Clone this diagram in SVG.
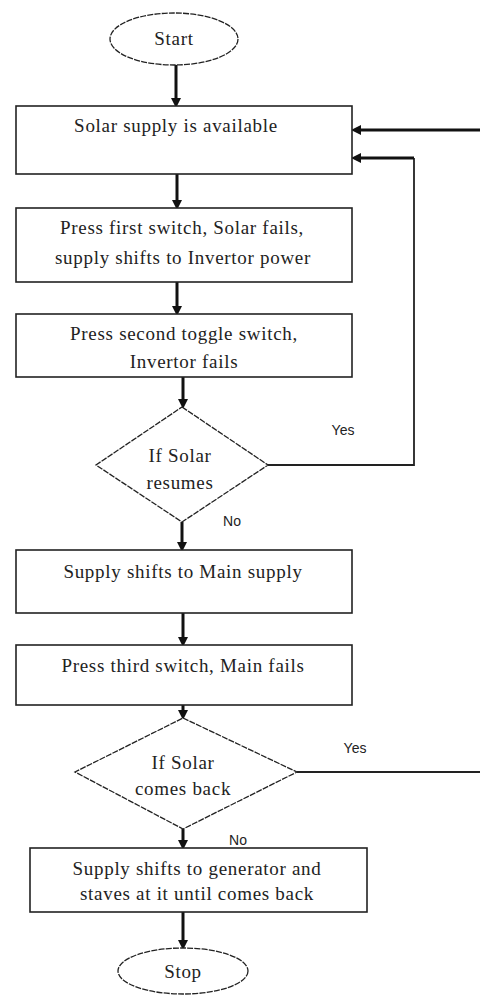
<svg xmlns="http://www.w3.org/2000/svg" width="480" height="998" viewBox="0 0 480 998">
<defs>
<style>
.box{fill:#fff;stroke:#222;stroke-width:1.6}
.term{fill:#fff;stroke:#222;stroke-width:1.3;stroke-dasharray:6 1.2}
.dec{fill:#fff;stroke:#222;stroke-width:1.3;stroke-dasharray:6 1.2}
.t{font-family:"Liberation Serif","Times New Roman","DejaVu Serif",serif;font-size:19px;letter-spacing:0.7px;fill:#222;text-anchor:middle}
.lab{font-family:"Liberation Sans",Arial,sans-serif;font-size:14px;fill:#222;text-anchor:middle}
.thick{fill:none;stroke:#111;stroke-width:3}
.thin{fill:none;stroke:#222;stroke-width:1.8}
</style>
<marker id="ah" markerWidth="10" markerHeight="10" refX="6" refY="5" orient="auto" markerUnits="userSpaceOnUse" viewBox="0 0 10 10">
<path d="M0,0 L10,5 L0,10 z" fill="#111"/>
</marker>
</defs>
<rect width="480" height="998" fill="#fff"/>
<g id="connectors">
<line class="thick" x1="176" y1="65" x2="176" y2="104" marker-end="url(#ah)"/>
<line class="thick" x1="177" y1="174" x2="177" y2="206" marker-end="url(#ah)"/>
<line class="thick" x1="177" y1="282" x2="177" y2="312" marker-end="url(#ah)"/>
<line class="thick" x1="183" y1="377" x2="183" y2="405" marker-end="url(#ah)"/>
<line class="thick" x1="182" y1="522" x2="182" y2="548" marker-end="url(#ah)"/>
<line class="thick" x1="183" y1="613" x2="183" y2="643" marker-end="url(#ah)"/>
<line class="thick" x1="183" y1="705" x2="183" y2="716" marker-end="url(#ah)"/>
<line class="thick" x1="183" y1="829" x2="183" y2="846" marker-end="url(#ah)"/>
<line class="thick" x1="183" y1="912" x2="183" y2="946" marker-end="url(#ah)"/>
<path class="thin" d="M268,465 H414 V158"/>
<line class="thick" x1="414" y1="158" x2="355" y2="158" marker-end="url(#ah)"/>
<line class="thick" x1="480" y1="130" x2="355" y2="130" marker-end="url(#ah)"/>
<line class="thin" x1="297" y1="772" x2="480" y2="772"/>
<text class="lab" x="343" y="435">Yes</text>
<text class="lab" x="232" y="526">No</text>
<text class="lab" x="355" y="753">Yes</text>
<text class="lab" x="238" y="845">No</text>
</g>
<g id="start">
<ellipse class="term" cx="174" cy="39" rx="64" ry="26"/>
<text class="t" x="174" y="45">Start</text>
</g>
<g id="solar-available">
<rect class="box" x="16" y="106" width="336" height="68"/>
<text class="t" x="176" y="132">Solar supply is available</text>
</g>
<g id="first-switch">
<rect class="box" x="16" y="208" width="336" height="74"/>
<text class="t" x="182" y="234">Press first switch, Solar fails,</text>
<text class="t" x="183" y="264">supply shifts to Invertor power</text>
</g>
<g id="second-switch">
<rect class="box" x="16" y="314" width="336" height="63"/>
<text class="t" x="184" y="340">Press second toggle switch,</text>
<text class="t" x="184" y="368">Invertor fails</text>
</g>
<g id="solar-resumes">
<polygon class="dec" points="182,407 268,465 182,522 96,465"/>
<text class="t" x="180" y="462">If Solar</text>
<text class="t" x="180" y="489">resumes</text>
</g>
<g id="main-supply">
<rect class="box" x="16" y="550" width="336" height="63"/>
<text class="t" x="183" y="578">Supply shifts to Main supply</text>
</g>
<g id="third-switch">
<rect class="box" x="16" y="645" width="336" height="60"/>
<text class="t" x="183" y="672">Press third switch, Main fails</text>
</g>
<g id="solar-back">
<polygon class="dec" points="183,718 297,772 183,829 75,772"/>
<text class="t" x="183" y="769">If Solar</text>
<text class="t" x="183" y="795">comes back</text>
</g>
<g id="generator">
<rect class="box" x="30" y="848" width="337" height="64"/>
<text class="t" x="197" y="875">Supply shifts to generator and</text>
<text class="t" x="197" y="900">staves at it until comes back</text>
</g>
<g id="stop">
<ellipse class="term" cx="183" cy="971" rx="65" ry="23"/>
<text class="t" x="183" y="978">Stop</text>
</g>
</svg>
